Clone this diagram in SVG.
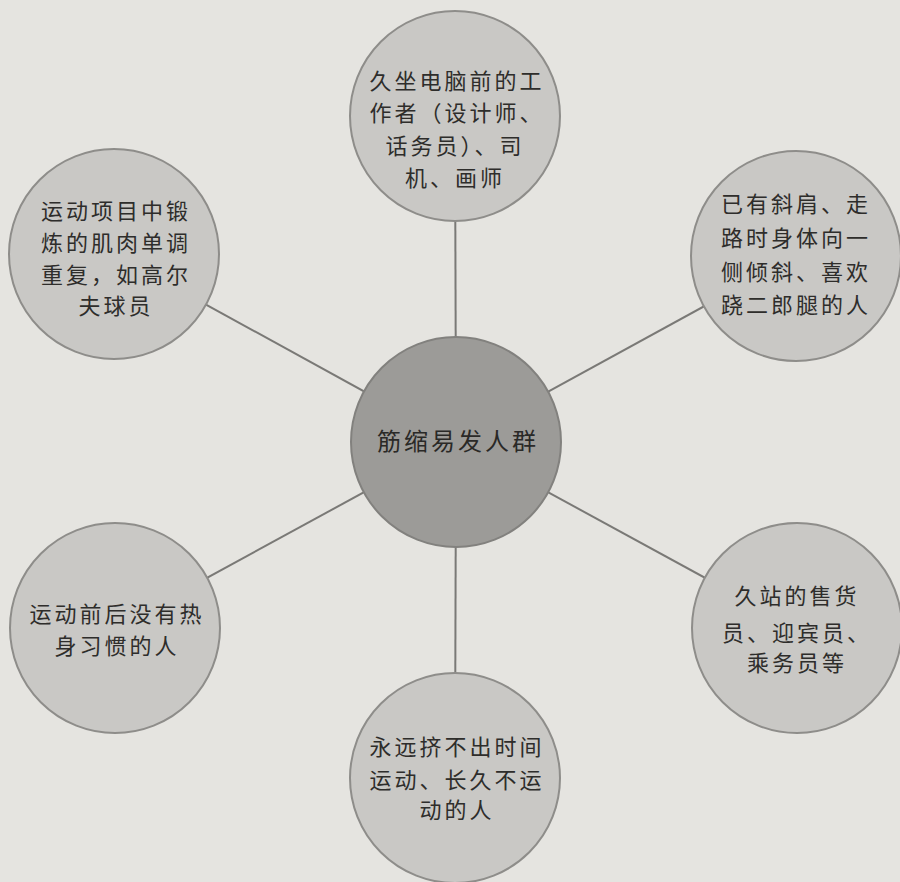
<svg xmlns="http://www.w3.org/2000/svg" width="900" height="882" viewBox="0 0 900 882">
<style>
.bg{fill:#e5e4e0}
.c{fill:#c9c8c5;stroke:#8e8d8a;stroke-width:2}
.cc{fill:#9c9b98;stroke:#82817e;stroke-width:2}
.l{stroke:#7a7976;stroke-width:2;fill:none}
text{font-family:"Noto Sans CJK SC","Noto Sans CJK JP",sans-serif;font-size:22px;fill:#2e2d2b;text-anchor:middle;letter-spacing:3px}
.ct{font-size:24px;fill:#2a2927}
</style>
<rect class="bg" x="0" y="0" width="900" height="882"/>
<g id="connectors">
<line class="l" x1="456" y1="442" x2="455" y2="116"/>
<line class="l" x1="456" y1="442" x2="114" y2="254"/>
<line class="l" x1="456" y1="442" x2="796" y2="256"/>
<line class="l" x1="456" y1="442" x2="115" y2="628"/>
<line class="l" x1="456" y1="442" x2="797" y2="628"/>
<line class="l" x1="456" y1="442" x2="455" y2="778"/>
</g>
<g id="center">
<circle class="cc" cx="456" cy="442" r="105"/>
<text class="ct" x="458" y="450">筋缩易发人群</text>
</g>
<g id="top">
<circle class="c" cx="455" cy="116" r="105"/>
<text x="457" y="89">久坐电脑前的工</text>
<text x="457" y="121">作者（设计师、</text>
<text x="455" y="154">话务员）、司</text>
<text x="455" y="186">机、画师</text>
</g>
<g id="topleft">
<circle class="c" cx="114" cy="254" r="105"/>
<text x="116" y="219">运动项目中锻</text>
<text x="116" y="251">炼的肌肉单调</text>
<text x="116" y="283">重复，如高尔</text>
<text x="116" y="314">夫球员</text>
</g>
<g id="topright">
<circle class="c" cx="796" cy="256" r="105"/>
<text x="796" y="212">已有斜肩、走</text>
<text x="796" y="246">路时身体向一</text>
<text x="796" y="280">侧倾斜、喜欢</text>
<text x="796" y="313">跷二郎腿的人</text>
</g>
<g id="bottomleft">
<circle class="c" cx="115" cy="628" r="105"/>
<text x="117" y="622">运动前后没有热</text>
<text x="117" y="654">身习惯的人</text>
</g>
<g id="bottomright">
<circle class="c" cx="797" cy="628" r="105"/>
<text x="797" y="604">久站的售货</text>
<text x="797" y="641">员、迎宾员、</text>
<text x="797" y="671">乘务员等</text>
</g>
<g id="bottom">
<circle class="c" cx="455" cy="778" r="105"/>
<text x="457" y="755">永远挤不出时间</text>
<text x="457" y="788">运动、长久不运</text>
<text x="457" y="818">动的人</text>
</g>
</svg>
